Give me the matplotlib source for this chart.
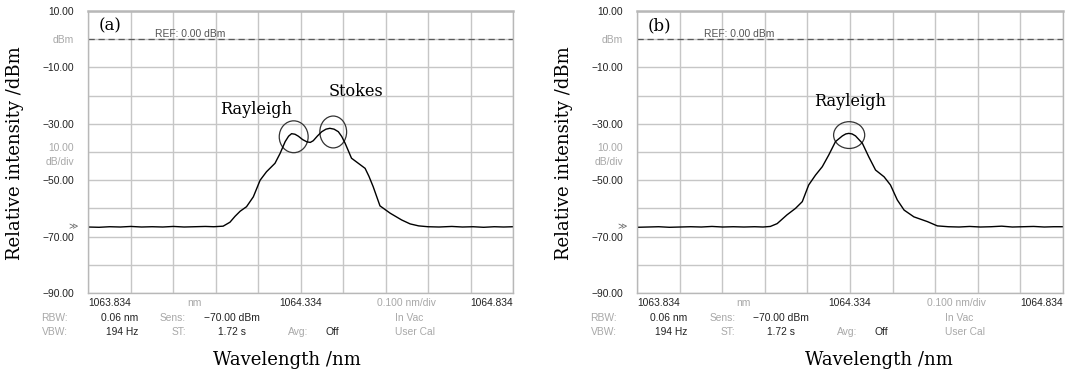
import matplotlib
matplotlib.use("Agg")
import matplotlib.pyplot as plt
from matplotlib.patches import Ellipse
from matplotlib.transforms import blended_transform_factory

# ---------------- data ----------------
wl_a = [1063.834, 1063.860, 1063.885, 1063.910, 1063.935, 1063.960, 1063.985,
        1064.010, 1064.035, 1064.060, 1064.085, 1064.110, 1064.130, 1064.152,
        1064.168, 1064.180, 1064.192, 1064.207, 1064.223, 1064.239, 1064.254,
        1064.274, 1064.286, 1064.298, 1064.306, 1064.313, 1064.321, 1064.329,
        1064.339, 1064.349, 1064.357, 1064.364, 1064.374, 1064.384, 1064.394,
        1064.403, 1064.413, 1064.423, 1064.431, 1064.439, 1064.454, 1064.470,
        1064.486, 1064.495, 1064.505, 1064.521, 1064.545, 1064.572, 1064.592,
        1064.612, 1064.634, 1064.660, 1064.690, 1064.715, 1064.740, 1064.765,
        1064.790, 1064.812, 1064.834]
db_a = [-66.6, -66.7, -66.5, -66.6, -66.4, -66.6, -66.5,
        -66.6, -66.4, -66.6, -66.5, -66.4, -66.5, -66.3,
        -64.9, -62.8, -61.0, -59.4, -55.9, -50.0, -47.0,
        -44.0, -40.5, -36.3, -34.4, -33.5, -33.7, -34.4,
        -35.6, -36.4, -36.6, -36.0, -34.3, -32.8, -31.9,
        -31.6, -31.9, -32.8, -34.5, -36.9, -42.2, -44.0,
        -45.8, -48.6, -52.3, -59.1, -61.7, -64.1, -65.5,
        -66.2, -66.5, -66.6, -66.4, -66.6, -66.5, -66.7,
        -66.5, -66.6, -66.5]

wl_b = [1063.834, 1063.860, 1063.885, 1063.910, 1063.935, 1063.960, 1063.985,
        1064.010, 1064.035, 1064.060, 1064.085, 1064.110, 1064.130, 1064.147,
        1064.163, 1064.186, 1064.206, 1064.222, 1064.237, 1064.253, 1064.269,
        1064.284, 1064.300, 1064.316, 1064.324, 1064.331, 1064.339, 1064.347,
        1064.363, 1064.378, 1064.394, 1064.414, 1064.429, 1064.445, 1064.461,
        1064.484, 1064.516, 1064.539, 1064.565, 1064.590, 1064.615, 1064.640,
        1064.665, 1064.690, 1064.715, 1064.740, 1064.765, 1064.790, 1064.812,
        1064.834]
db_b = [-66.7, -66.6, -66.5, -66.7, -66.6, -66.5, -66.6,
        -66.4, -66.6, -66.5, -66.6, -66.5, -66.6, -66.4,
        -65.4, -62.3, -60.0, -57.6, -51.7, -48.2, -45.2,
        -41.1, -36.3, -34.3, -33.6, -33.4, -33.6, -34.3,
        -36.9, -41.7, -46.4, -48.8, -51.7, -57.0, -60.6,
        -63.0, -64.7, -66.2, -66.5, -66.6, -66.4, -66.6,
        -66.5, -66.3, -66.6, -66.5, -66.4, -66.6, -66.5,
        -66.5]

x_min, x_max = 1063.834, 1064.834
x_grid = [1063.834 + 0.1 * k for k in range(11)]
y_ticks = [10, 0, -10, -20, -30, -40, -50, -60, -70, -80, -90]
y_labels = ["10.00", "dBm", "\u221210.00", "", "\u221230.00", "10.00\ndB/div",
            "\u221250.00", "", "\u221270.00", "", "\u221290.00"]
y_label_gray = [False, True, False, False, False, True, False, False, False, False, False]
x_label_texts = ["1063.834", "nm", "1064.334", "0.100 nm/div", "1064.834"]
x_label_pos = [1063.834, 1064.084, 1064.334, 1064.584, 1064.834]
x_label_gray = [False, True, False, True, False]
x_label_ha = ["left", "center", "center", "center", "right"]

noise_level = -66.5

# annotations: (label, text x, text y, ellipse center x, center y, width nm, height dB)
ann_a = [("Rayleigh", 1064.230, -25.0, 1064.318, -34.6, 0.068, 11.3),
         ("Stokes", 1064.465, -18.5, 1064.411, -32.9, 0.063, 11.3)]
ann_b = [("Rayleigh", 1064.334, -22.0, 1064.332, -34.0, 0.073, 9.5)]

# ---------------- style ----------------
W, H = 1067, 371
fig = plt.figure(figsize=(W / 100, H / 100), dpi=100)
SERIF = "DejaVu Serif"
SANS = "Liberation Sans"
DARK = "#222222"
GRAY = "#a8a8a8"
GRID = "#c6c6c6"
small = 7.4


def make_panel(left_px, width_px, wl, db, tag, anns, xlabel_cx):
    ax = fig.add_axes([left_px / W, (H - 293) / H, width_px / W, 282 / H])
    ax.set_xlim(x_min, x_max)
    ax.set_ylim(-90, 10)
    ax.set_xticks(x_grid)
    ax.set_xticklabels([])
    ax.set_yticks(y_ticks)
    ax.set_yticklabels(y_labels, fontfamily=SANS, fontsize=small, linespacing=1.5)
    for lab, g in zip(ax.get_yticklabels(), y_label_gray):
        lab.set_color(GRAY if g else DARK)
    ax.tick_params(length=0, pad=10)
    ax.grid(True, color=GRID, lw=1.0)
    ax.set_axisbelow(True)
    for s in ax.spines.values():
        s.set_color("#b8b8b8")
        s.set_linewidth(1.0)
    ax.spines["top"].set_linewidth(1.8)

    ax.axhline(0, color="#5a5a5a", lw=0.9, ls=(0, (5, 3)))
    ax.plot(wl, db, color="black", lw=1.0)

    for name, tx, ty, cx, cy, ew, eh in anns:
        ax.add_patch(Ellipse((cx, cy), ew, eh, fill=False, ec="#333333", lw=0.9))
        ax.text(tx, ty, name, fontfamily=SERIF, fontsize=11.6, ha="center",
                va="center", color="black")

    ax.text(0.026, 0.947, tag, transform=ax.transAxes, fontfamily=SERIF,
            fontsize=12, ha="left", va="center")
    ax.text(0.158, 0.918, "REF: 0.00 dBm", transform=ax.transAxes,
            fontfamily=SANS, fontsize=small, color="#555555", ha="left", va="center")
    ax.text(-0.035, (noise_level + 90) / 100, "\u226b", transform=ax.transAxes,
            fontfamily="DejaVu Sans", fontsize=6.5, color="#666666", ha="center", va="center")

    bt = blended_transform_factory(ax.transData, ax.transAxes)
    for t, xp, g, ha in zip(x_label_texts, x_label_pos, x_label_gray, x_label_ha):
        ax.text(xp, -0.034, t, transform=bt, fontfamily=SANS, fontsize=small,
                color=GRAY if g else DARK, ha=ha, va="center")

    def fx(px):
        return (px - 88) / 425.0

    rows = [
        ("RBW:", 68, -0.089, GRAY, "right"), ("0.06 nm", 138, -0.089, DARK, "right"),
        ("Sens:", 186, -0.089, GRAY, "right"), ("\u221270.00 dBm", 232, -0.089, DARK, "center"),
        ("In Vac", 395, -0.089, GRAY, "left"),
        ("VBW:", 68, -0.138, GRAY, "right"), ("194 Hz", 138, -0.138, DARK, "right"),
        ("ST:", 186, -0.138, GRAY, "right"), ("1.72 s", 232, -0.138, DARK, "center"),
        ("Avg:", 308, -0.138, GRAY, "right"), ("Off", 325, -0.138, DARK, "left"),
        ("User Cal", 395, -0.138, GRAY, "left"),
    ]
    for t, px, fy, c, ha in rows:
        ax.text(fx(px), fy, t, transform=ax.transAxes, fontfamily=SANS,
                fontsize=small, color=c, ha=ha, va="center", clip_on=False)

    fig.text(xlabel_cx / W, (H - 360) / H, "Wavelength /nm", fontfamily=SERIF,
             fontsize=13, ha="center", va="center")
    return ax


make_panel(88, 425, wl_a, db_a, "(a)", ann_a, 286.5)
make_panel(637, 426, wl_b, db_b, "(b)", ann_b, 878.5)

fig.text(15 / W, (H - 153.5) / H, "Relative intensity /dBm", fontfamily=SERIF,
         fontsize=13, rotation=90, ha="center", va="center")
fig.text(564 / W, (H - 153.5) / H, "Relative intensity /dBm", fontfamily=SERIF,
         fontsize=13, rotation=90, ha="center", va="center")

fig.savefig("out.png", dpi=100, facecolor="white")
